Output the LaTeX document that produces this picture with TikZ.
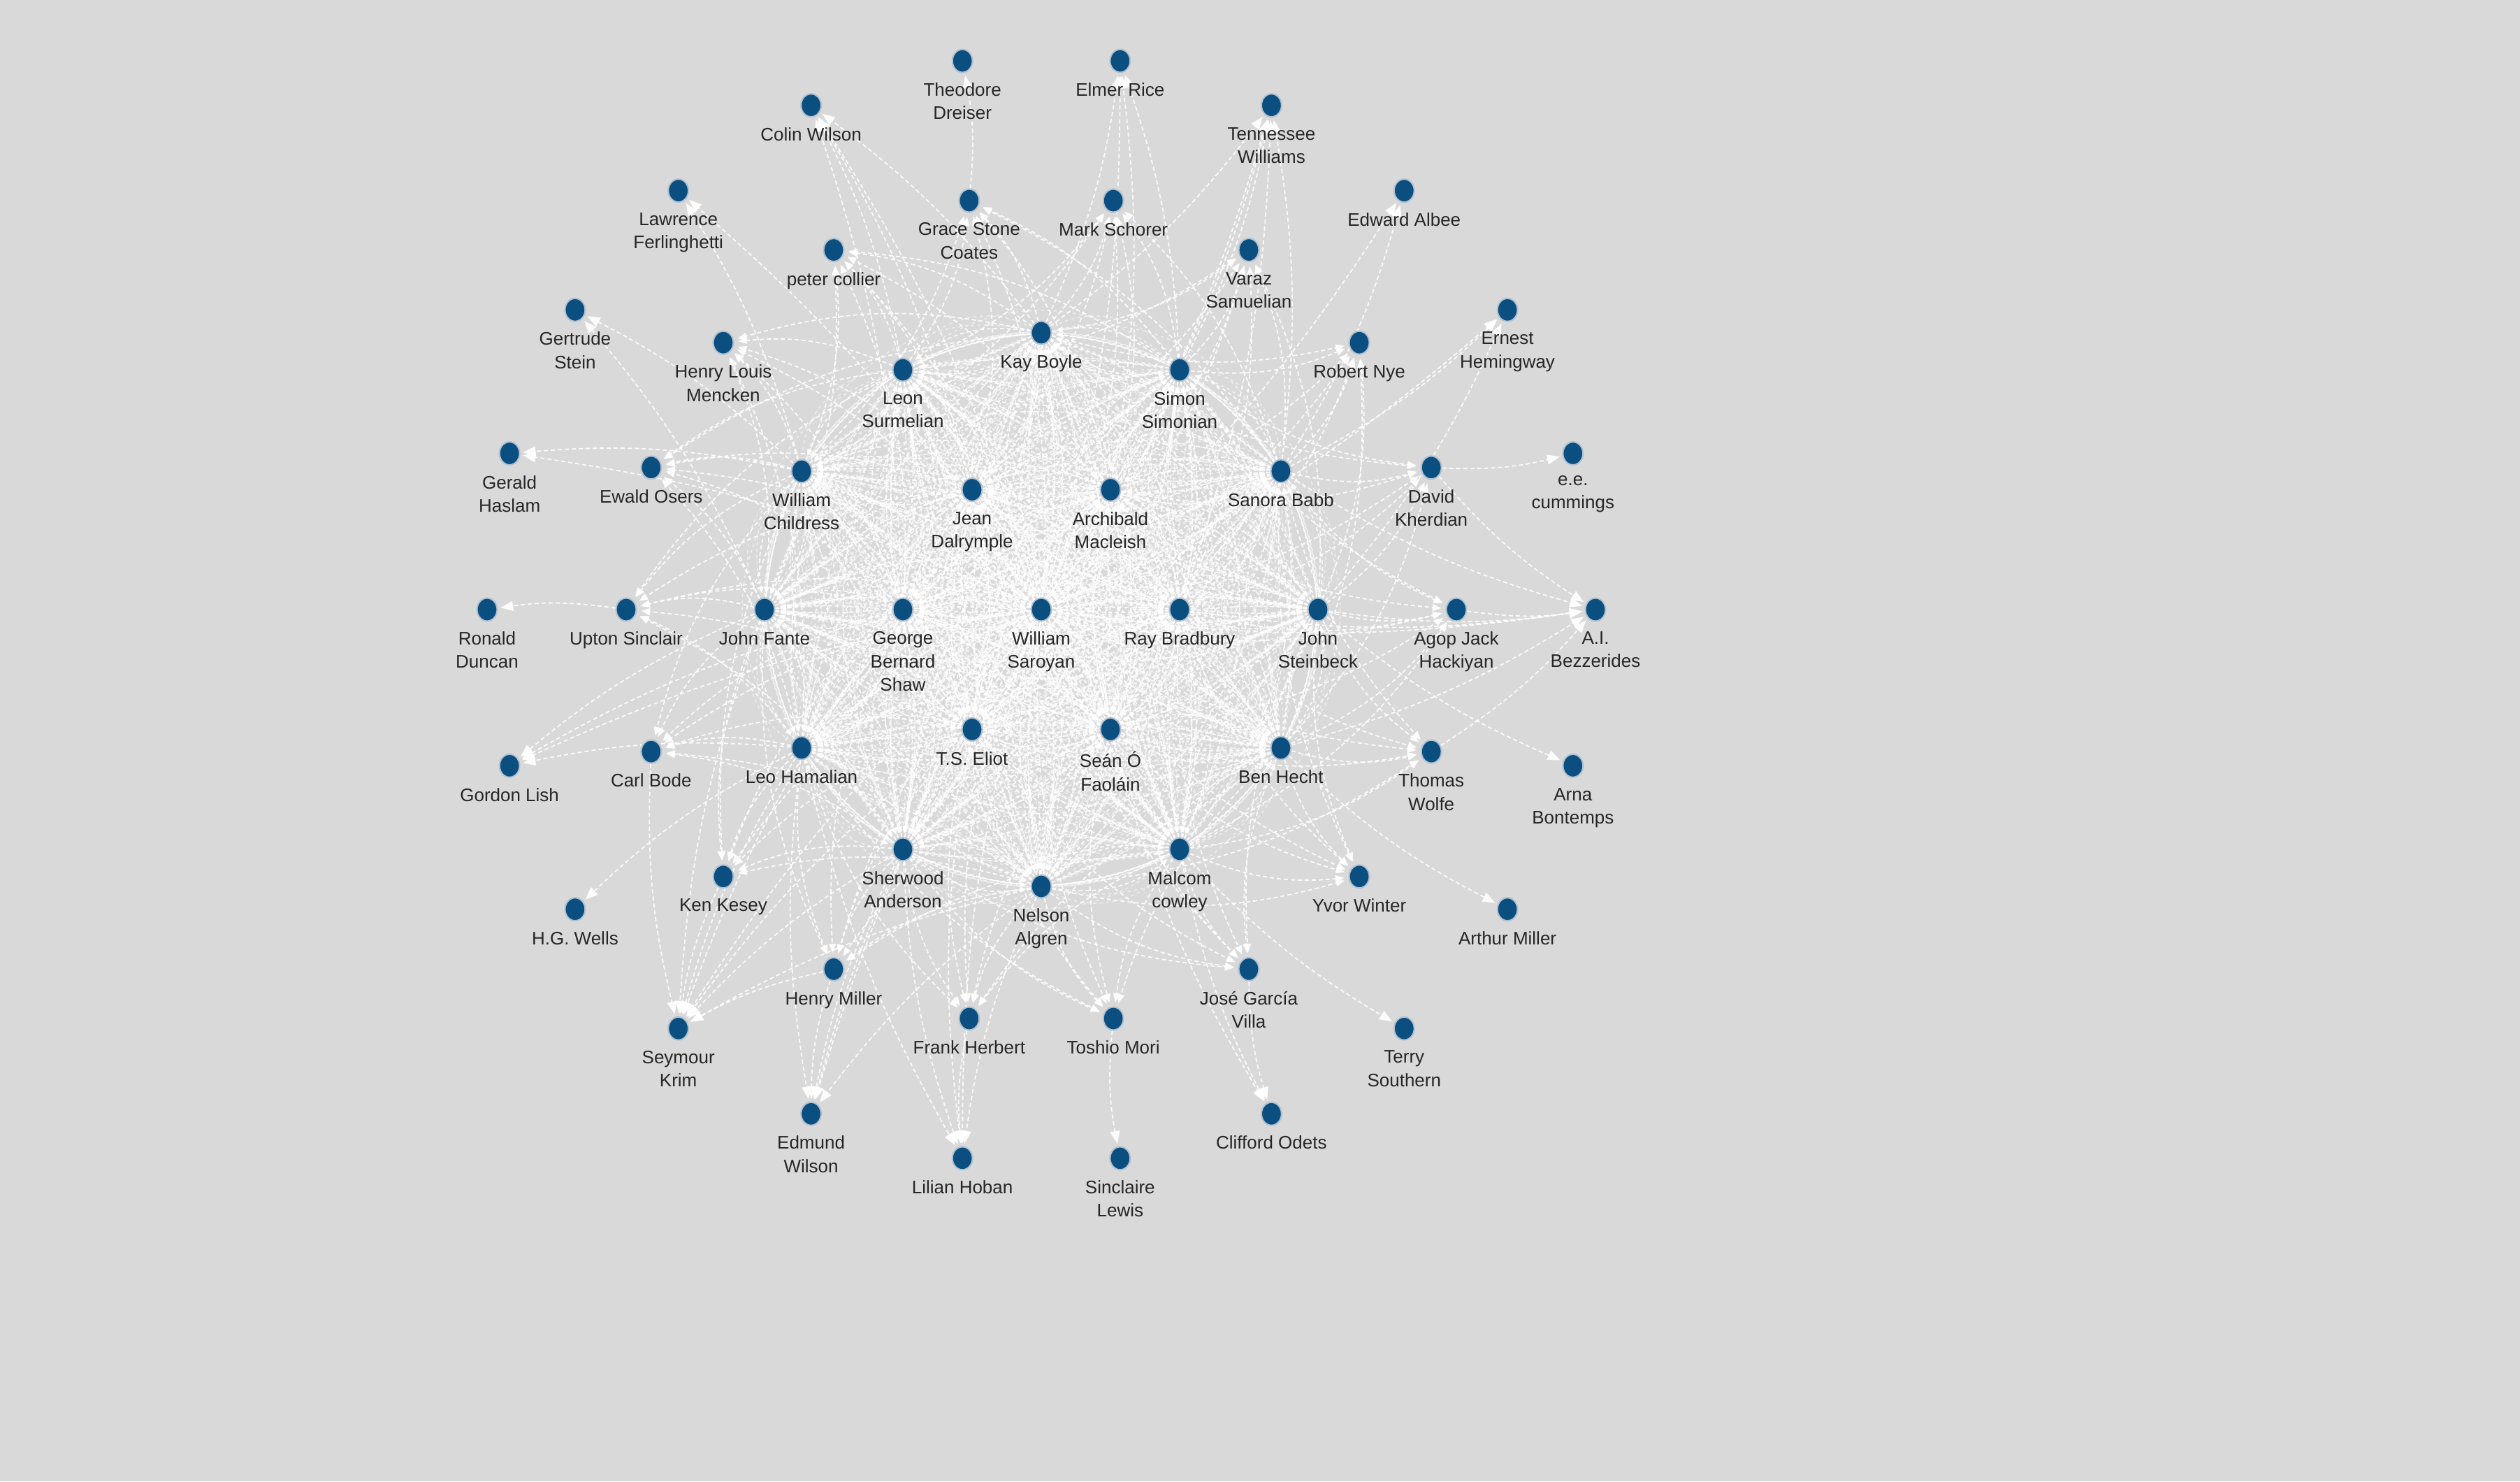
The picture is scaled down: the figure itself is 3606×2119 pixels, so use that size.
\documentclass[tikz,border=0pt]{standalone}
\usepackage{fontspec}
\setmainfont{Liberation Sans}
\usetikzlibrary{shapes.geometric,arrows.meta}
\definecolor{bgc}{RGB}{217,217,217}
\definecolor{dotc}{RGB}{11,79,128}
\definecolor{ringc}{RGB}{175,192,208}
\definecolor{txtc}{RGB}{38,38,38}
\pgfdeclarelayer{bglayer}
\pgfdeclarelayer{edgelayer}
\pgfsetlayers{bglayer,edgelayer,main}
\tikzset{
  dot/.style={ellipse,fill=dotc,draw=ringc,line width=0.5pt,minimum width=7.2pt,minimum height=8.2pt,inner sep=0pt},
  lbl/.style={font=\fontsize{6.5}{8.3}\selectfont,text=txtc,align=center,inner sep=0pt},
  every label/.style={lbl},
  label distance=3.4pt,
  edg/.style={draw=white,line width=0.45pt,dash pattern=on 1.5pt off 1pt,
     -{Triangle[length=3.2pt,width=2.5pt]},shorten >=1.5pt,bend right=14,opacity=0.9},
  edgc/.style={draw=white,line width=0.42pt,dash pattern=on 1.4pt off 1pt,
     -{Triangle[length=2.4pt,width=1.9pt]},shorten >=1.5pt,bend right=24,opacity=0.9},
  edgt/.style={draw=white,line width=0.4pt,dash pattern=on 1.2pt off 1.1pt,bend left=9,opacity=0.65,shorten >=2pt,shorten <=2pt},
  edgu/.style={draw=white,line width=0.4pt,dash pattern=on 1.1pt off 1.2pt,bend right=42,opacity=0.55,shorten >=2pt,shorten <=2pt},
  edgo/.style={draw=white,line width=0.45pt,dash pattern=on 1.5pt off 1pt,
     -{Triangle[length=4.5pt,width=3.5pt]},shorten >=1pt,bend right=8,opacity=0.9}
}
\begin{document}
\begin{tikzpicture}[x=0.25pt,y=0.25pt]
\begin{pgfonlayer}{bglayer}
\fill[bgc] (-1490,-1247) rectangle (2116,872);
\end{pgfonlayer}
\path[use as bounding box] (-1490,-1247) rectangle (2116,872);
% center
\node[dot,label=below:{William\\Saroyan}] (s) at (0,0) {};
% ring 1 (r=198)
\node[dot,label=below:{Ray Bradbury}] (a0) at (0:198) {};
\node[dot,label=below:{Archibald\\Macleish}] (a1) at (60:198) {};
\node[dot,label=below:{Jean\\Dalrymple}] (a2) at (120:198) {};
\node[dot,label=below:{George\\Bernard\\Shaw}] (a3) at (180:198) {};
\node[dot,label=below:{T.S. Eliot}] (a4) at (240:198) {};
\node[dot,label=below:{Seán Ó\\Faoláin}] (a5) at (300:198) {};
% ring 2 (r=396)
\node[dot,label=below:{John\\Steinbeck}] (b0) at (0:396) {};
\node[dot,label=below:{Sanora Babb}] (b1) at (30:396) {};
\node[dot,label=below:{Simon\\Simonian}] (b2) at (60:396) {};
\node[dot,label=below:{Kay Boyle}] (b3) at (90:396) {};
\node[dot,label=below:{Leon\\Surmelian}] (b4) at (120:396) {};
\node[dot,label=below:{William\\Childress}] (b5) at (150:396) {};
\node[dot,label=below:{John Fante}] (b6) at (180:396) {};
\node[dot,label=below:{Leo Hamalian}] (b7) at (210:396) {};
\node[dot,label=below:{Sherwood\\Anderson}] (b8) at (240:396) {};
\node[dot,label=below:{Nelson\\Algren}] (b9) at (270:396) {};
\node[dot,label=below:{Malcom\\cowley}] (b10) at (300:396) {};
\node[dot,label=below:{Ben Hecht}] (b11) at (330:396) {};
% ring 3 (r=594)
\node[dot,label=below:{Agop Jack\\Hackiyan}] (c0) at (0:594) {};
\node[dot,label=below:{David\\Kherdian}] (c1) at (20:594) {};
\node[dot,label=below:{Robert Nye}] (c2) at (40:594) {};
\node[dot,label=below:{Varaz\\Samuelian}] (c3) at (60:594) {};
\node[dot,label=below:{Mark Schorer}] (c4) at (80:594) {};
\node[dot,label=below:{Grace Stone\\Coates}] (c5) at (100:594) {};
\node[dot,label=below:{peter collier}] (c6) at (120:594) {};
\node[dot,label=below:{Henry Louis\\Mencken}] (c7) at (140:594) {};
\node[dot,label=below:{Ewald Osers}] (c8) at (160:594) {};
\node[dot,label=below:{Upton Sinclair}] (c9) at (180:594) {};
\node[dot,label=below:{Carl Bode}] (c10) at (200:594) {};
\node[dot,label=below:{Ken Kesey}] (c11) at (220:594) {};
\node[dot,label=below:{Henry Miller}] (c12) at (240:594) {};
\node[dot,label=below:{Frank Herbert}] (c13) at (260:594) {};
\node[dot,label=below:{Toshio Mori}] (c14) at (280:594) {};
\node[dot,label=below:{José García\\Villa}] (c15) at (300:594) {};
\node[dot,label=below:{Yvor Winter}] (c16) at (320:594) {};
\node[dot,label=below:{Thomas\\Wolfe}] (c17) at (340:594) {};
% ring 4 (r=793)
\node[dot,label=below:{A.I.\\Bezzerides}] (d0) at (0*16.3636:793) {};
\node[dot,label=below:{e.e.\\cummings}] (d1) at (1*16.3636:793) {};
\node[dot,label=below:{Ernest\\Hemingway}] (d2) at (2*16.3636:793) {};
\node[dot,label=below:{Edward Albee}] (d3) at (3*16.3636:793) {};
\node[dot,label=below:{Tennessee\\Williams}] (d4) at (4*16.3636:793) {};
\node[dot,label=below:{Elmer Rice}] (d5) at (5*16.3636:793) {};
\node[dot,label=below:{Theodore\\Dreiser}] (d6) at (6*16.3636:793) {};
\node[dot,label=below:{Colin Wilson}] (d7) at (7*16.3636:793) {};
\node[dot,label=below:{Lawrence\\Ferlinghetti}] (d8) at (8*16.3636:793) {};
\node[dot,label=below:{Gertrude\\Stein}] (d9) at (9*16.3636:793) {};
\node[dot,label=below:{Gerald\\Haslam}] (d10) at (10*16.3636:793) {};
\node[dot,label=below:{Ronald\\Duncan}] (d11) at (11*16.3636:793) {};
\node[dot,label=below:{Gordon Lish}] (d12) at (12*16.3636:793) {};
\node[dot,label=below:{H.G. Wells}] (d13) at (13*16.3636:793) {};
\node[dot,label=below:{Seymour\\Krim}] (d14) at (14*16.3636:793) {};
\node[dot,label=below:{Edmund\\Wilson}] (d15) at (15*16.3636:793) {};
\node[dot,label=below:{Lilian Hoban}] (d16) at (16*16.3636:793) {};
\node[dot,label=below:{Sinclaire\\Lewis}] (d17) at (17*16.3636:793) {};
\node[dot,label=below:{Clifford Odets}] (d18) at (18*16.3636:793) {};
\node[dot,label=below:{Terry\\Southern}] (d19) at (19*16.3636:793) {};
\node[dot,label=below:{Arthur Miller}] (d20) at (20*16.3636:793) {};
\node[dot,label=below:{Arna\\Bontemps}] (d21) at (21*16.3636:793) {};

\begin{pgfonlayer}{edgelayer}
% dense core: all ordered pairs among center, ring 1 and ring 2
\foreach \u in {s,a0,a1,a2,a3,a4,a5,b0,b1,b2,b3,b4,b5,b6,b7,b8,b9,b10,b11}{
  \foreach \v in {s,a0,a1,a2,a3,a4,a5,b0,b1,b2,b3,b4,b5,b6,b7,b8,b9,b10,b11}{
    \ifx\u\v\else
      \draw[edgc] (\u) to (\v);
      \draw[edgt] (\u) to (\v);
      \draw[edgu] (\u) to (\v);
    \fi
  }
}
% ring 3: from center and nearby ring 1 / ring 2 nodes
\foreach \k in {0,...,17}{
  \draw[edg] (s) to (c\k);
  \foreach \j in {0,...,11}{
    \pgfmathsetmacro\dd{abs(mod(20*\k-30*\j+540,360)-180)}
    \ifdim\dd pt<80pt \draw[edg] (b\j) to (c\k); \fi
  }
  \foreach \j in {0,...,5}{
    \pgfmathsetmacro\dd{abs(mod(20*\k-60*\j+540,360)-180)}
    \ifdim\dd pt<65pt \draw[edg] (a\j) to (c\k); \fi
  }
}
% ring 4
\foreach \u/\v in {c5/d6,
  s/d5,b3/d5,b2/d5,a1/d5,
  b4/d7,s/d7,a2/d7,b3/d7,a3/d7,
  b2/d4,s/d4,b1/d4,a1/d4,b3/d4,a0/d4,
  b5/d8,s/d8,
  b1/d3,s/d3,
  b5/d9,b6/d9,
  b1/d2,b0/d2,s/d2,
  b5/d10,s/d10,
  c1/d1,
  c9/d11,
  c0/d0,b0/d0,s/d0,a0/d0,b1/d0,b11/d0,c1/d0,c17/d0,
  b7/d12,b6/d12,s/d12,a3/d12,
  b0/d21,
  b7/d13,
  b11/d20,
  c11/d14,c12/d14,b7/d14,b8/d14,s/d14,a3/d14,a4/d14,b9/d14,b6/d14,c10/d14,
  b10/d19,
  c12/d15,b7/d15,b8/d15,s/d15,a4/d15,b9/d15,
  b10/d18,c15/d18,a5/d18,
  c13/d16,b8/d16,s/d16,a4/d16,b9/d16,b7/d16,
  c14/d17}{
  \draw[edgo] (\u) to (\v);
}
\end{pgfonlayer}
\end{tikzpicture}
\end{document}
